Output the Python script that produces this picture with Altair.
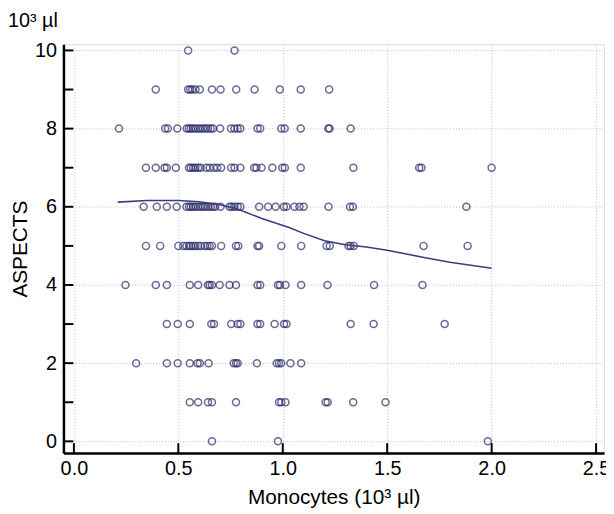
import altair as alt
import pandas as pd

# Monocyte counts (10^3/µl) for each ASPECTS score
row_10 = [0.547, 0.769]
row_9 = [0.392, 0.547, 0.557, 0.567, 0.582, 0.603, 0.661, 0.702, 0.777, 0.865, 0.986, 1.086, 1.222]
row_8 = [0.216, 0.437, 0.450, 0.495, 0.540, 0.550, 0.560, 0.571, 0.582, 0.595, 0.606, 0.618, 0.630,
         0.642, 0.655, 0.666, 0.700, 0.752, 0.769, 0.784, 0.797, 0.879, 0.892, 0.993, 1.009, 1.086,
         1.218, 1.224, 1.325]
row_7 = [0.345, 0.392, 0.434, 0.445, 0.488, 0.551, 0.560, 0.571, 0.582, 0.595, 0.607, 0.634, 0.650,
         0.670, 0.686, 0.705, 0.753, 0.769, 0.797, 0.863, 0.874, 0.898, 0.950, 0.998, 1.010, 1.086,
         1.338, 1.653, 1.664, 2.000]
row_6 = [0.334, 0.397, 0.445, 0.492, 0.539, 0.551, 0.560, 0.571, 0.582, 0.595, 0.607, 0.618, 0.629,
         0.642, 0.655, 0.666, 0.677, 0.702, 0.745, 0.756, 0.769, 0.784, 0.797, 0.887, 0.930, 0.966,
         1.005, 1.018, 1.056, 1.080, 1.100, 1.219, 1.322, 1.336, 1.879]
row_5 = [0.345, 0.413, 0.500, 0.524, 0.539, 0.551, 0.560, 0.571, 0.582, 0.595, 0.607, 0.626, 0.639,
         0.650, 0.661, 0.705, 0.776, 0.787, 0.879, 0.887, 0.993, 1.088, 1.210, 1.225, 1.315, 1.325,
         1.340, 1.674, 1.885]
row_4 = [0.247, 0.392, 0.445, 0.555, 0.595, 0.642, 0.650, 0.661, 0.698, 0.745, 0.776, 0.879, 0.892,
         0.977, 0.987, 1.013, 1.088, 1.214, 1.437, 1.669]
row_3 = [0.445, 0.497, 0.555, 0.658, 0.671, 0.753, 0.784, 0.797, 0.879, 0.892, 0.961, 1.006, 1.018,
         1.325, 1.435, 1.775]
row_2 = [0.298, 0.445, 0.497, 0.555, 0.592, 0.603, 0.645, 0.765, 0.776, 0.784, 0.876, 0.971, 0.982,
         0.993, 1.037, 1.088]
row_1 = [0.555, 0.595, 0.642, 0.661, 0.776, 0.982, 0.993, 1.013, 1.205, 1.215, 1.337, 1.492]
row_0 = [0.661, 0.977, 1.982]

rows = {10: row_10, 9: row_9, 8: row_8, 7: row_7, 6: row_6, 5: row_5,
        4: row_4, 3: row_3, 2: row_2, 1: row_1, 0: row_0}

# smoothed trend curve
smooth_x = [0.21, 0.35, 0.50, 0.60, 0.70, 0.78, 0.90, 1.03, 1.10, 1.20, 1.30, 1.40, 1.50, 1.67, 1.80, 2.00]
smooth_y = [6.12, 6.16, 6.16, 6.13, 6.05, 5.95, 5.70, 5.47, 5.32, 5.13, 5.03, 4.97, 4.89, 4.71, 4.58, 4.43]

x_tick_values = [0.0, 0.5, 1.0, 1.5, 2.0, 2.5]
y_label_values = [0, 2, 4, 6, 8, 10]
y_tick_values = [0, 1, 2, 3, 4, 5, 6, 7, 8, 9, 10]

points = pd.DataFrame([{"mono": x, "aspects": y} for y, xs in rows.items() for x in xs])
smooth = pd.DataFrame({"mono": smooth_x, "aspects": smooth_y})
xticks = pd.DataFrame({"mono": x_tick_values})
yticks = pd.DataFrame({"aspects": y_tick_values})

FONT = "Liberation Sans"
W, H = 546, 413

xscale = alt.Scale(domain=[-0.05, 2.538], nice=False, zero=False)
yscale = alt.Scale(domain=[-0.3, 10.16], nice=False, zero=False)

xaxis = alt.Axis(values=x_tick_values, format=".1f", title="Monocytes (10³ µl)",
                 labelFontSize=20, labelFont=FONT, labelColor="black", labelPadding=6,
                 titleFontSize=21, titleFont=FONT, titleFontWeight="normal", titleColor="black",
                 titlePadding=8, ticks=False, domainColor="black", domainWidth=2.5,
                 grid=True, gridColor="#bdbdbd", gridDash=[1, 2], gridWidth=1)
yaxis = alt.Axis(values=y_label_values, title="ASPECTS",
                 labelFontSize=20, labelFont=FONT, labelColor="black", labelPadding=7,
                 titleFontSize=21, titleFont=FONT, titleFontWeight="normal", titleColor="black",
                 titlePadding=4, ticks=False, domainColor="black", domainWidth=2.5,
                 grid=True, gridColor="#bdbdbd", gridDash=[1, 2], gridWidth=1)

X = alt.X("mono:Q", scale=xscale, axis=xaxis)
Y = alt.Y("aspects:Q", scale=yscale, axis=yaxis)

pts = alt.Chart(points).mark_point(shape="circle", filled=False, size=50, strokeWidth=1.5,
                                   color="#2a2c6a").encode(x=X, y=Y)
line = alt.Chart(smooth).mark_line(color="#3a3c7c", strokeWidth=1.6).encode(x=X, y=Y)
ytk = alt.Chart(yticks).mark_rule(color="black", strokeWidth=2).encode(
    y=Y, x=alt.value(0), x2=alt.value(10))
xtk = alt.Chart(xticks).mark_rule(color="black", strokeWidth=2).encode(
    x=X, y=alt.value(H), y2=alt.value(H - 10))
unit = alt.Chart(pd.DataFrame({"t": ["10³ µl"]})).mark_text(
    align="left", baseline="middle", font=FONT, fontSize=20, color="black").encode(
    text="t:N", x=alt.value(-56), y=alt.value(-23))

chart = alt.layer(pts, line, ytk, xtk, unit).properties(
    width=W, height=H,
    padding={"left": 56, "top": 34, "right": 2, "bottom": 58},
    autosize=alt.AutoSizeParams(type="none"),
).configure_view(strokeWidth=0).configure(background="white")

chart.save("out.html", embed_options={"renderer": "svg", "actions": False})
